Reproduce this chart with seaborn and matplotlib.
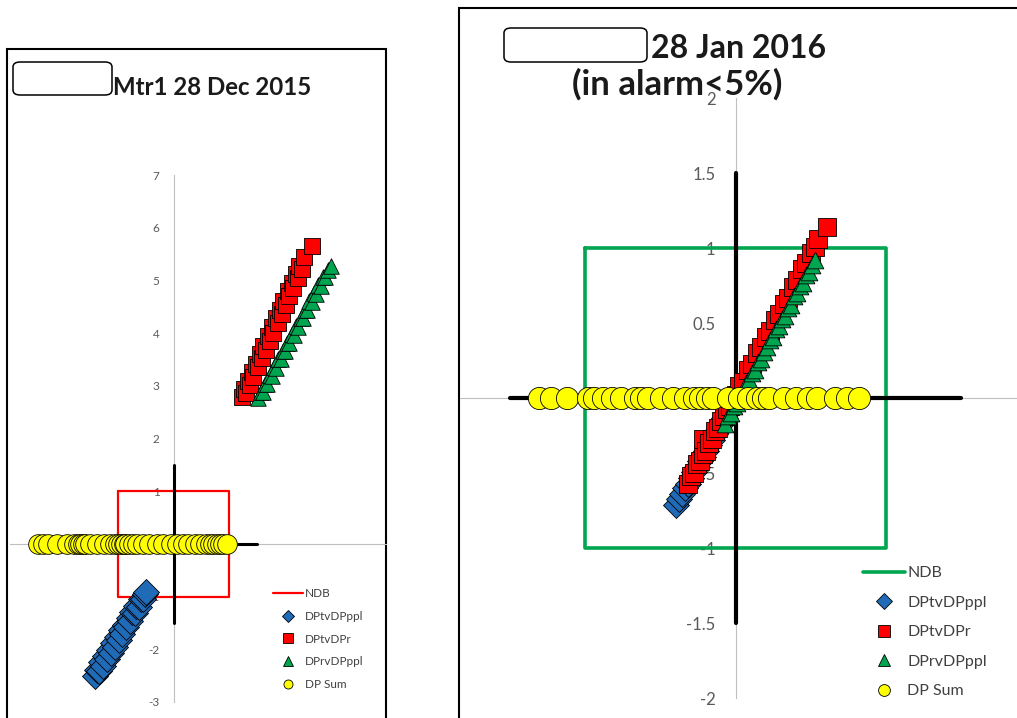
import matplotlib
matplotlib.use("Agg")
import matplotlib.pyplot as plt
from matplotlib.lines import Line2D
from matplotlib.patches import Rectangle, FancyBboxPatch
import seaborn as sns

W, H = 1017, 718

# ---------------- Mtr1, 28 Dec 2015 ----------------
dec_tv_ppl_x = [-1.41, -1.37, -1.34, -1.30, -1.27, -1.23, -1.20, -1.16, -1.13, -1.09,
                -1.06, -1.02, -0.99, -0.95, -0.92, -0.88, -0.85, -0.81, -0.78, -0.74,
                -0.70, -0.67, -0.63, -0.59, -0.55, -0.52, -0.50]
dec_tv_ppl_y = [-2.50, -2.40, -2.42, -2.25, -2.31, -2.13, -2.19, -2.01, -2.07, -1.88,
                -1.95, -1.77, -1.83, -1.64, -1.71, -1.53, -1.58, -1.41, -1.46, -1.29,
                -1.32, -1.17, -1.20, -1.05, -1.05, -0.95, -0.92]

dec_tv_r_x = [1.24, 1.27, 1.30, 1.34, 1.37, 1.41, 1.44, 1.48, 1.52, 1.55, 1.59, 1.62,
              1.66, 1.70, 1.73, 1.77, 1.80, 1.84, 1.88, 1.91, 1.95, 1.98, 2.02, 2.06,
              2.09, 2.13, 2.16, 2.20, 2.24, 2.27, 2.31, 2.35, 2.50]
dec_tv_r_y = [2.78, 2.93, 2.86, 3.10, 3.02, 3.27, 3.16, 3.42, 3.35, 3.60, 3.52, 3.76,
              3.68, 3.94, 3.85, 4.11, 4.01, 4.28, 4.20, 4.44, 4.36, 4.61, 4.53, 4.79,
              4.70, 4.95, 4.86, 5.12, 5.05, 5.28, 5.22, 5.44, 5.65]

dec_rv_ppl_x = [1.53, 1.57, 1.61, 1.65, 1.69, 1.73, 1.77, 1.81, 1.85, 1.89, 1.93, 1.97,
                2.01, 2.05, 2.09, 2.13, 2.17, 2.21, 2.25, 2.29, 2.33, 2.37, 2.41, 2.45,
                2.49, 2.53, 2.57, 2.61, 2.65, 2.69, 2.73, 2.78, 2.83]
dec_rv_ppl_y = [2.76, 2.88, 2.88, 3.04, 3.03, 3.20, 3.19, 3.35, 3.34, 3.51, 3.50, 3.66,
                3.66, 3.82, 3.81, 3.98, 3.97, 4.13, 4.12, 4.29, 4.28, 4.44, 4.44, 4.60,
                4.59, 4.76, 4.75, 4.91, 4.90, 5.07, 5.06, 5.19, 5.28]

dec_sum_x = [-2.44, -2.35, -2.26, -2.10, -1.92, -1.80, -1.72, -1.68, -1.63, -1.59,
             -1.50, -1.38, -1.25, -1.14, -1.06, -1.00, -0.95, -0.90, -0.87, -0.80,
             -0.73, -0.65, -0.55, -0.45, -0.30, -0.19, -0.05, 0.06, 0.18, 0.26,
             0.38, 0.48, 0.58, 0.66, 0.72, 0.78, 0.84, 0.90, 0.96]
dec_sum_y = [0.0] * len(dec_sum_x)

# ---------------- 28 Jan 2016 ----------------
jan_tv_ppl_x = [-0.40, -0.38, -0.36, -0.34, -0.32, -0.30, -0.28, -0.26, -0.24, -0.22,
                -0.20, -0.18, -0.16, -0.14, -0.12, -0.10, -0.08]
jan_tv_ppl_y = [-0.71, -0.67, -0.64, -0.60, -0.57, -0.53, -0.49, -0.46, -0.42, -0.39,
                -0.35, -0.31, -0.28, -0.24, -0.21, -0.17, -0.13]

jan_tv_r_x = [-0.32, -0.30, -0.28, -0.26, -0.24, -0.22, -0.22, -0.20, -0.18, -0.16,
              -0.14, -0.12, -0.10, -0.08, -0.06, -0.04, -0.02, 0.00, 0.02, 0.05,
              0.08, 0.11, 0.14, 0.17, 0.20, 0.23, 0.26, 0.29, 0.32, 0.35,
              0.38, 0.41, 0.44, 0.47, 0.50, 0.53, 0.55, 0.61]
jan_tv_r_y = [-0.57, -0.52, -0.50, -0.44, -0.42, -0.37, -0.27, -0.35, -0.30, -0.27,
              -0.22, -0.20, -0.15, -0.12, -0.07, -0.05, 0.00, 0.02, 0.08, 0.11,
              0.19, 0.23, 0.30, 0.34, 0.41, 0.45, 0.52, 0.56, 0.63, 0.67,
              0.74, 0.79, 0.86, 0.90, 0.97, 1.01, 1.06, 1.14]

jan_rv_ppl_x = [-0.07, -0.05, -0.03, -0.01, 0.01, 0.03, 0.05, 0.07, 0.09, 0.11, 0.13,
                0.15, 0.17, 0.19, 0.21, 0.23, 0.25, 0.27, 0.29, 0.31, 0.33, 0.35,
                0.37, 0.39, 0.41, 0.43, 0.45, 0.47, 0.49, 0.51, 0.53]
jan_rv_ppl_y = [-0.17, -0.12, -0.10, -0.05, -0.03, 0.02, 0.05, 0.10, 0.12, 0.17, 0.19,
                0.24, 0.26, 0.31, 0.34, 0.39, 0.41, 0.46, 0.48, 0.53, 0.55, 0.60,
                0.62, 0.68, 0.70, 0.75, 0.77, 0.82, 0.84, 0.89, 0.92]

jan_sum_x = [-1.31, -1.23, -1.12, -0.98, -0.94, -0.88, -0.82, -0.76, -0.67, -0.63,
             -0.58, -0.50, -0.42, -0.34, -0.28, -0.24, -0.19, -0.15, -0.05, 0.02,
             0.08, 0.14, 0.18, 0.22, 0.32, 0.40, 0.48, 0.54, 0.66, 0.74, 0.82]
jan_sum_y = [0.0] * len(jan_sum_x)

# NDB limit box and the +/-1.5 reference cross (shared by both charts)
ndb_x = [-1, 1, 1, -1, -1]
ndb_y = [1, 1, -1, -1, 1]
cross_h_x, cross_h_y = [-1.5, 1.5], [0, 0]
cross_v_x, cross_v_y = [0, 0], [-1.5, 1.5]

dec_yticks = [-3, -2, -1, 0, 1, 2, 3, 4, 5, 6, 7]
jan_yticks = [-2, -1.5, -1, -0.5, 0, 0.5, 1, 1.5, 2]
jan_yticklabels = ["-2", "-1.5", "-1", "-0.5", "0", "0.5", "1", "1.5", "2"]

labels = ["NDB", "DPtvDPppl", "DPtvDPr", "DPrvDPppl", "DP Sum"]
C_BLUE, C_RED, C_GREEN, C_YELLOW = "#1F6BB8", "#FF0000", "#00A550", "#FFFF00"
TICK_COLOR = "#595959"

sns.set_style("white")
plt.rcParams["font.family"] = ["Lato", "DejaVu Sans"]

fig = plt.figure(figsize=(W / 100, H / 100), dpi=100)
fig.patch.set_facecolor("white")


def panel_axes(x0, y0, sx, sy, xlim, ylim):
    """Axes whose data origin lands at pixel (x0, y0) with sx/sy pixels per unit."""
    left = x0 + sx * xlim[0]
    right = x0 + sx * xlim[1]
    top = y0 - sy * ylim[1]
    bottom = y0 - sy * ylim[0]
    ax = fig.add_axes([left / W, 1 - bottom / H, (right - left) / W, (bottom - top) / H])
    ax.set_xlim(*xlim)
    ax.set_ylim(*ylim)
    ax.patch.set_alpha(0)
    for side in ("top", "right"):
        ax.spines[side].set_visible(False)
    for side in ("left", "bottom"):
        ax.spines[side].set_position(("data", 0))
        ax.spines[side].set_color("#BFBFBF")
        ax.spines[side].set_linewidth(0.8)
    ax.set_xticks([])
    ax.set_axisbelow(True)
    return ax


def draw_series(ax, ndb_color, ndb_lw, cross_lw, sizes, series):
    sns.lineplot(x=ndb_x, y=ndb_y, sort=False, estimator=None, color=ndb_color,
                 lw=ndb_lw, ax=ax, zorder=2)
    sns.lineplot(x=cross_h_x, y=cross_h_y, sort=False, estimator=None, color="black",
                 lw=cross_lw, ax=ax, zorder=3)
    sns.lineplot(x=cross_v_x, y=cross_v_y, sort=False, estimator=None, color="black",
                 lw=cross_lw, ax=ax, zorder=3)
    styles = [("D", C_BLUE), ("s", C_RED), ("^", C_GREEN), ("o", C_YELLOW)]
    for z, ((xs, ys), (mk, col), s) in enumerate(zip(series, styles, sizes)):
        sns.scatterplot(x=xs, y=ys, marker=mk, s=s, color=col, edgecolor="black",
                        linewidth=0.6, ax=ax, zorder=4 + z, legend=False, clip_on=False)


def add_legend(ax, ndb_color, ndb_lw, ms, fs, anchor, handlelength, spacing):
    handles = [Line2D([], [], color=ndb_color, lw=ndb_lw)]
    for mk, col in [("D", C_BLUE), ("s", C_RED), ("^", C_GREEN), ("o", C_YELLOW)]:
        handles.append(Line2D([], [], ls="none", marker=mk, ms=ms, mfc=col,
                              mec="black", mew=0.6))
    ax.legend(handles, labels, loc="upper left",
              bbox_to_anchor=(anchor[0] / W, 1 - anchor[1] / H),
              bbox_transform=fig.transFigure, frameon=False, borderpad=0,
              borderaxespad=0, handlelength=handlelength, handletextpad=0.15,
              labelspacing=spacing, fontsize=fs, labelcolor="#404040")


# ---- left chart ----
ax1 = panel_axes(173.5, 543.9, 55.5, 52.7, (-2.95, 3.83), (-3, 7))
ax1.set_yticks(dec_yticks)
ax1.set_yticklabels([str(v) for v in dec_yticks])
ax1.tick_params(axis="y", length=0, pad=10, labelsize=8.5, labelcolor=TICK_COLOR)
draw_series(ax1, C_RED, 1.6, 2.2, [175, 140, 125, 200],
            [(dec_tv_ppl_x, dec_tv_ppl_y), (dec_tv_r_x, dec_tv_r_y),
             (dec_rv_ppl_x, dec_rv_ppl_y), (dec_sum_x, dec_sum_y)])
add_legend(ax1, C_RED, 1.6, 6.5, 8.5, (273, 588), 2.55, 1.0)

# ---- right chart ----
ax2 = panel_axes(735.7, 398.3, 150.4, 150.0, (-1.83, 1.87), (-2, 2))
ax2.set_yticks(jan_yticks)
ax2.set_yticklabels(jan_yticklabels)
ax2.tick_params(axis="y", length=0, pad=14.5, labelsize=12, labelcolor=TICK_COLOR)
draw_series(ax2, C_GREEN, 2.6, 3.0, [175, 175, 145, 255],
            [(jan_tv_ppl_x, jan_tv_ppl_y), (jan_tv_r_x, jan_tv_r_y),
             (jan_rv_ppl_x, jan_rv_ppl_y), (jan_sum_x, jan_sum_y)])
add_legend(ax2, C_GREEN, 2.6, 8.5, 11.5, (863, 566), 2.63, 0.96)

# ---- panel frames ----
fig.add_artist(Rectangle((7 / W, 1 - 730 / H), 379 / W, 681 / H, transform=fig.transFigure,
                         fill=False, edgecolor="black", lw=1.5, zorder=0))
fig.add_artist(Rectangle((459 / W, 1 - 730 / H), 580 / W, 722 / H, transform=fig.transFigure,
                         fill=False, edgecolor="black", lw=1.5, zorder=0))

# ---- titles with blank rounded label boxes ----
fig.add_artist(FancyBboxPatch((13 / W, 1 - 95 / H), 99 / W, 33 / H,
                              boxstyle="round,pad=0,rounding_size=0.007",
                              transform=fig.transFigure, fill=False, edgecolor="black", lw=1.1))
fig.text(113 / W, 1 - 95 / H, "Mtr1 28 Dec 2015", fontsize=17.3, fontweight="bold",
         ha="left", va="baseline", color="#1A1A1A")

fig.add_artist(FancyBboxPatch((504 / W, 1 - 62 / H), 143 / W, 34 / H,
                              boxstyle="round,pad=0,rounding_size=0.007",
                              transform=fig.transFigure, fill=False, edgecolor="black", lw=1.1))
fig.text(651 / W, 1 - 57.5 / H, "28 Jan 2016", fontsize=23, fontweight="bold",
         ha="left", va="baseline", color="#1A1A1A")
fig.text(677 / W, 1 - 95 / H, "(in alarm<5%)", fontsize=25, fontweight="bold",
         ha="center", va="baseline", color="#1A1A1A")

fig.savefig("out.png", dpi=100, facecolor="white")
